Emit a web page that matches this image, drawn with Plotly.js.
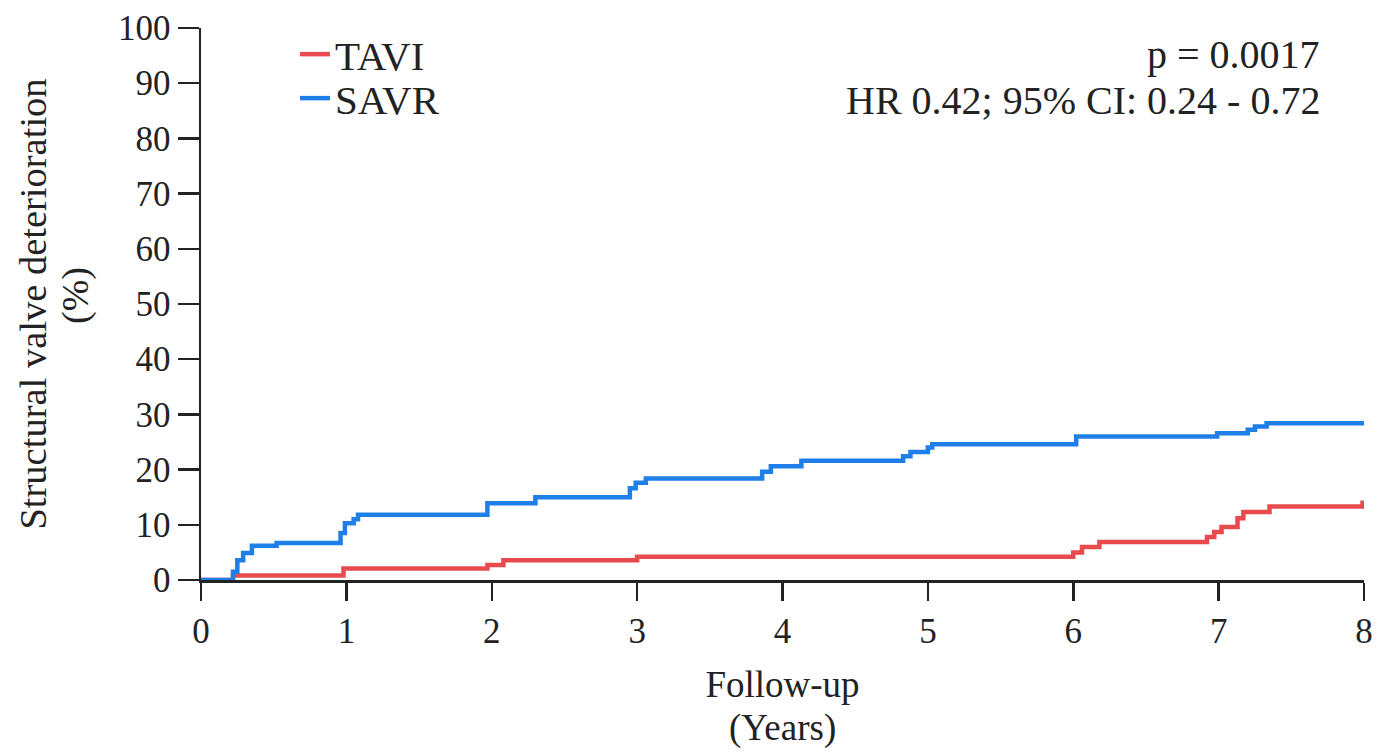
<!DOCTYPE html>
<html>
<head>
<meta charset="utf-8">
<script src="https://cdn.plot.ly/plotly-3.0.1.min.js"></script>
<style>html,body{margin:0;padding:0;background:#fff;}#chart{width:1377px;height:753px;}</style>
</head>
<body>
<div id="chart"></div>
<script>
// Kaplan-Meier style cumulative incidence (step points)
var tavi_t = [0, 0.22, 0.98, 1.97, 2.08, 3.00, 6.00, 6.06, 6.18, 6.92, 6.97, 7.02, 7.13, 7.17, 7.35, 7.99, 8.00];
var tavi_y = [0, 0.8, 2.1, 2.7, 3.6, 4.2, 5.0, 6.0, 6.9, 7.8, 8.7, 9.6, 11.2, 12.3, 13.3, 14.0, 14.0];

var savr_t = [0, 0.22, 0.25, 0.29, 0.35, 0.52, 0.96, 0.99, 1.05, 1.08, 1.97, 2.30, 2.95, 2.99, 3.06, 3.86, 3.92, 4.13, 4.83, 4.88, 5.00, 5.03, 6.02, 6.99, 7.20, 7.25, 7.33, 8.00];
var savr_y = [0, 1.5, 3.6, 4.9, 6.2, 6.7, 8.5, 10.3, 11.0, 11.8, 13.9, 15.0, 16.6, 17.6, 18.4, 19.6, 20.6, 21.6, 22.4, 23.2, 24.0, 24.6, 26.0, 26.6, 27.2, 27.8, 28.4, 28.4];

var xTicks = [0, 1, 2, 3, 4, 5, 6, 7, 8];
var yTicks = [0, 10, 20, 30, 40, 50, 60, 70, 80, 90, 100];

var FONT = 'Liberation Serif, Times New Roman, serif';
var INK = '#222222';
var RED = '#e84a4e';
var BLUE = '#1f7fe8';

var traces = [
  {x: tavi_t, y: tavi_y, name: 'TAVI', type: 'scatter', mode: 'lines', legend: 'legend',
   line: {shape: 'hv', color: RED, width: 4.5}},
  {x: savr_t, y: savr_y, name: 'SAVR', type: 'scatter', mode: 'lines', legend: 'legend2',
   line: {shape: 'hv', color: BLUE, width: 4.5}}
];

var axisCommon = {
  showline: true, linewidth: 2.5, linecolor: INK, mirror: false,
  showgrid: false, zeroline: false,
  ticks: 'outside', tickwidth: 2.5, tickcolor: INK,
  tickfont: {family: FONT, size: 35, color: INK}
};

var legendCommon = {xanchor: 'left', yanchor: 'top',
  font: {family: FONT, size: 41, color: INK}, bgcolor: 'rgba(0,0,0,0)'};

var layout = {
  width: 1377, height: 753,
  margin: {l: 201, r: 13, t: 28, b: 173},
  paper_bgcolor: '#ffffff', plot_bgcolor: '#ffffff',
  font: {family: FONT, color: INK},
  showlegend: true,
  legend: Object.assign({x: 0.0808, y: 1.0127}, legendCommon),
  legend2: Object.assign({x: 0.0808, y: 0.933}, legendCommon),
  xaxis: Object.assign({}, axisCommon, {
    range: [0, 8], tickmode: 'array', tickvals: xTicks, ticklen: 18,
    title: {text: 'Follow-up', font: {family: FONT, size: 37, color: INK}, standoff: 22}
  }),
  yaxis: Object.assign({}, axisCommon, {
    range: [0, 100], tickmode: 'array', tickvals: yTicks, ticklen: 21,
    title: {text: 'Structural valve deterioration', font: {family: FONT, size: 38.5, color: INK}, standoff: 60}
  }),
  annotations: [
    {xref: 'paper', yref: 'paper', x: 0.5, y: 0, xanchor: 'center', yanchor: 'middle',
     yshift: -148, text: '(Years)', showarrow: false,
     font: {family: FONT, size: 37, color: INK}},
    {xref: 'paper', yref: 'paper', x: 0, y: 0.5, xanchor: 'center', yanchor: 'middle',
     xshift: -126, yshift: 8, textangle: -90, text: '(%)', showarrow: false,
     font: {family: FONT, size: 38, color: INK}},
    {xref: 'paper', yref: 'paper', x: 1, y: 1, xanchor: 'right', yanchor: 'middle',
     xshift: -42, yshift: -26, text: 'p = 0.0017', showarrow: false,
     font: {family: FONT, size: 40, color: INK}},
    {xref: 'paper', yref: 'paper', x: 1, y: 1, xanchor: 'right', yanchor: 'middle',
     xshift: -42, yshift: -72, text: 'HR 0.42; 95% CI: 0.24 - 0.72', showarrow: false,
     font: {family: FONT, size: 40, color: INK}}
  ]
};

Plotly.newPlot('chart', traces, layout, {displayModeBar: false, staticPlot: true});
</script>
</body>
</html>
